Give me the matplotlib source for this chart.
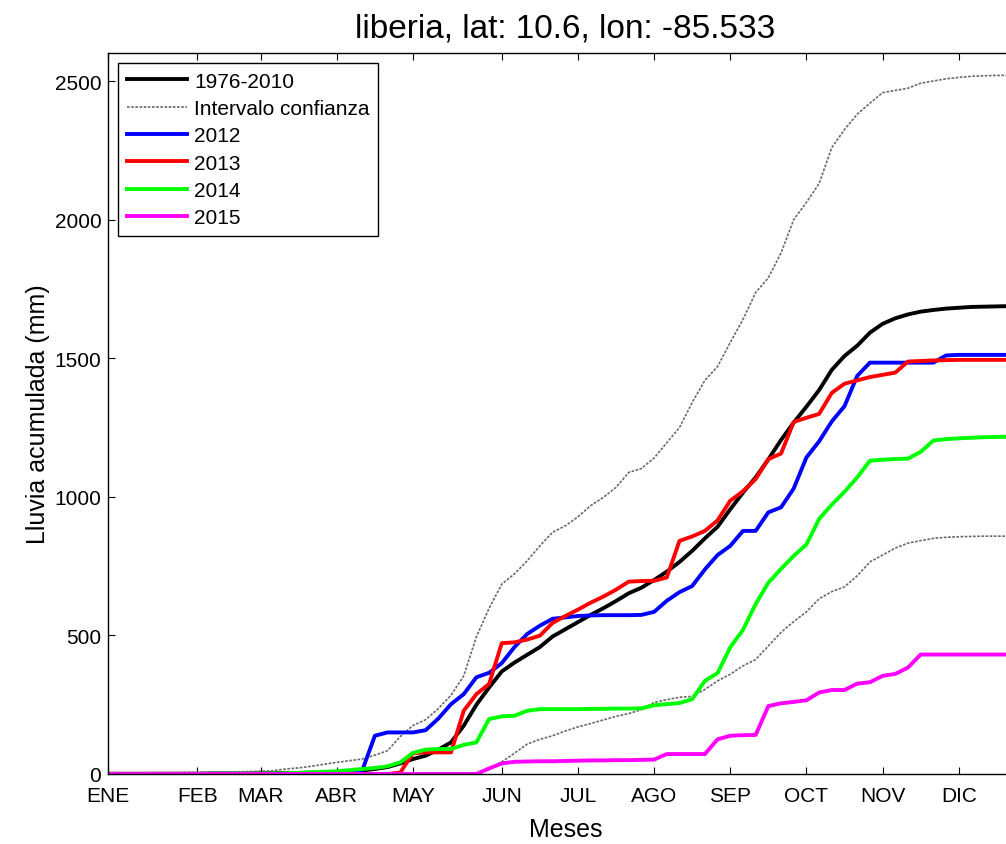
import numpy as np
import matplotlib
matplotlib.use('Agg')
import matplotlib.pyplot as plt

plt.rcParams['font.family'] = ['Liberation Sans', 'DejaVu Sans']

# x axis: pentads of the year
pentads = np.arange(1, 73)
month_ticks = [1, 8, 13, 19, 25, 32, 38, 44, 50, 56, 62, 68]
month_labels = ['ENE', 'FEB', 'MAR', 'ABR', 'MAY', 'JUN', 'JUL', 'AGO',
                'SEP', 'OCT', 'NOV', 'DIC']
y_ticks = [0, 500, 1000, 1500, 2000, 2500]

clim_mean = [1, 1, 1, 1, 1, 1, 1, 1, 2, 2,
             2, 2, 3, 3, 4, 4, 5, 6, 8, 10,
             13, 18, 25, 38, 54, 66, 88, 114, 174, 250,
             312, 370, 402, 430, 458, 496, 522, 548, 574, 598,
             624, 652, 672, 700, 730, 765, 805, 850, 892, 955,
             1015, 1070, 1135, 1205, 1268, 1325, 1385, 1458, 1508, 1545,
             1592, 1624, 1644, 1658, 1668, 1674, 1679, 1682, 1685, 1686,
             1687, 1688]

ci_upper = [3, 3, 4, 4, 5, 5, 6, 6, 7, 7,
            8, 9, 10, 12, 18, 22, 28, 35, 42, 48,
            54, 68, 84, 135, 175, 196, 236, 284, 354, 495,
            598, 685, 722, 769, 823, 872, 895, 928, 968, 998,
            1034, 1088, 1102, 1140, 1195, 1250, 1340, 1420, 1470, 1557,
            1640, 1737, 1790, 1880, 2000, 2062, 2130, 2260, 2325, 2380,
            2420, 2458, 2466, 2474, 2492, 2500, 2508, 2513, 2517, 2519,
            2520, 2521]

ci_lower = [0] * 30 + [
            20, 44, 75, 108, 125, 138, 155, 170, 182, 195,
            208, 218, 232, 258, 268, 277, 280, 305, 336, 360,
            390, 413, 462, 511, 550, 585, 632, 658, 675, 715,
            765, 790, 815, 833, 842, 850, 854, 856, 857, 858,
            858, 858]

y2012 = [0] * 20 + [
         12, 138, 150, 150, 150, 158, 200, 252, 288, 349,
         365, 400, 458, 505, 535, 560, 565, 570, 572, 573,
         573, 573, 574, 585, 625, 656, 678, 738, 790, 823,
         877, 877, 944, 962, 1030, 1142, 1200, 1272, 1327, 1436,
         1484, 1484, 1484, 1484, 1484, 1484, 1510, 1512, 1512, 1512,
         1512, 1512]

y2013 = [0] * 23 + [
         5, 75, 78, 78, 78, 228, 288,
         325, 472, 475, 485, 499, 545, 570, 593, 618, 640,
         665, 694, 696, 697, 709, 841, 857, 877, 915, 986,
         1020, 1064, 1136, 1156, 1270, 1285, 1299, 1375, 1408, 1420,
         1432, 1440, 1448, 1488, 1490, 1492, 1493, 1494, 1494, 1494,
         1494, 1494]

y2014 = [0, 0, 0, 0, 0, 0, 0, 0, 1, 1,
         1, 1, 1, 2, 3, 4, 6, 8, 10, 14,
         18, 22, 28, 42, 76, 88, 90, 90, 105, 114,
         198, 208, 210, 228, 234, 234, 234, 234, 235, 235,
         236, 236, 237, 248, 252, 256, 270, 336, 364, 457,
         520, 613, 690, 740, 787, 828, 920, 972, 1018, 1070,
         1130, 1134, 1136, 1138, 1162, 1203, 1208, 1211, 1213, 1215,
         1216, 1217]

y2015 = [0] * 30 + [
         20, 38, 44, 45, 46, 46, 47, 48, 49, 49,
         50, 50, 51, 52, 72, 72, 72, 72, 125, 138,
         140, 141, 245, 255, 260, 266, 294, 303, 303, 326,
         331, 354, 361, 384, 431, 431, 431, 431, 431, 431,
         431, 431]

W, H = 1006, 845
fig = plt.figure(figsize=(W / 100, H / 100), dpi=100)
ax_left, ax_right, ax_top, ax_bottom = 108.3, 1022.2, 54.3, 775.0
ax = fig.add_axes([ax_left / W, 1 - ax_bottom / H,
                   (ax_right - ax_left) / W, (ax_bottom - ax_top) / H])

lw = 2.8
ax.plot(pentads, clim_mean, color='black', lw=lw, label='1976-2010')
ax.plot(pentads, ci_upper, color='#6a6a6a', lw=1.2, dashes=(1.6, 0.9),
        label='Intervalo confianza')
ax.plot(pentads, ci_lower, color='#6a6a6a', lw=1.2, dashes=(1.6, 0.9))
ax.plot(pentads, y2012, color='#0000ff', lw=lw, label='2012')
ax.plot(pentads, y2013, color='#ff0000', lw=lw, label='2013')
ax.plot(pentads, y2014, color='#00ff00', lw=lw, label='2014')
ax.plot(pentads, y2015, color='#ff00ff', lw=lw, label='2015')

ax.set_xlim(1, 73)
ax.set_ylim(0, 2600)
ax.set_xticks(month_ticks)
ax.set_xticklabels(month_labels)
ax.set_yticks(y_ticks)
ax.tick_params(direction='in', top=True, right=True, length=5, width=0.8,
               labelsize=15)
ax.tick_params(axis='x', pad=9)
ax.tick_params(axis='y', pad=5)
for s in ax.spines.values():
    s.set_linewidth(1.0)

ax.set_title('liberia, lat: 10.6, lon: -85.533', fontsize=24, pad=12)
ax.set_xlabel('Meses', fontsize=18, va='center')
ax.set_ylabel('Lluvia acumulada (mm)', fontsize=18, va='center')
ax.xaxis.set_label_coords(0.5, (ax_bottom - 830) / (ax_bottom - ax_top))
ax.yaxis.set_label_coords((38 - ax_left) / (ax_right - ax_left), 0.5)

leg = ax.legend(loc='upper left', fontsize=15, fancybox=False, framealpha=1,
                edgecolor='black', borderaxespad=0.48, handlelength=2.9,
                handletextpad=0.35, labelspacing=0.4, borderpad=0.4)
leg.get_frame().set_linewidth(1.0)

fig.savefig('out.png', dpi=100)
